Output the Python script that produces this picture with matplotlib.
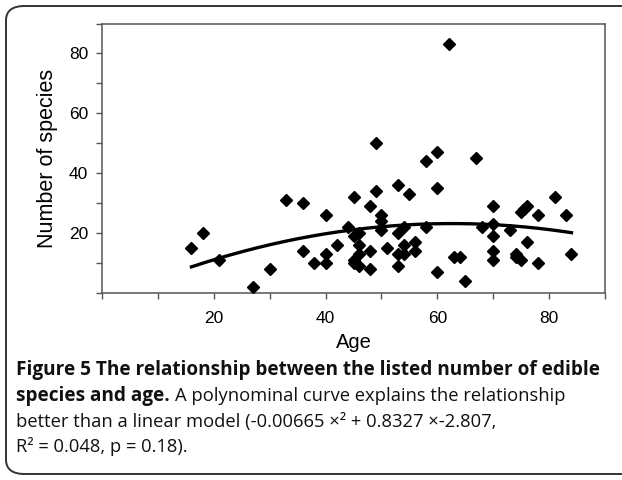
import numpy as np
import matplotlib
matplotlib.use("Agg")
import matplotlib.pyplot as plt
from matplotlib.patches import FancyBboxPatch

# scatter values (age, number of species)
ages = [16, 18, 21, 27, 30, 33, 36, 36, 38, 40, 40, 40, 42, 44, 45, 45, 45, 45,
        46, 46, 46, 46, 48, 48, 48, 49, 49, 50, 50, 50, 51, 53, 53, 53, 53,
        54, 54, 54, 55, 56, 56, 58, 58, 60, 60, 60, 62, 63, 64, 65, 67, 68,
        70, 70, 70, 70, 70, 73, 74, 74, 75, 75, 75.5, 76, 76, 78, 78, 81, 83, 84]
species = [15, 20, 11, 2, 8, 31, 30, 14, 10, 26, 13, 10, 16, 22, 32, 19, 11, 10,
           20, 16, 13, 9, 29, 14, 8, 34, 50, 26, 24, 21, 15, 36, 20, 13, 9,
           22, 16, 13, 33, 17, 14, 44, 22, 47, 35, 7, 83, 12, 12, 4, 45, 22,
           29, 23, 19, 14, 11, 21, 13, 12, 11, 27, 28, 29, 17, 26, 10, 32, 26, 13]

# polynomial fit given in the caption
fit_coef = [-0.00665, 0.8327, -2.807]
fit_range = [16, 84]

x_ticks = [20, 40, 60, 80]
y_ticks = [20, 40, 60, 80]

W, H = 622, 480
fig = plt.figure(figsize=(W / 100, H / 100), dpi=100)

# rounded frame around figure + caption
frame = FancyBboxPatch((6 / W, 6 / H), 660 / W, 468 / H,
                       boxstyle="round,pad=0,rounding_size=0.03",
                       transform=fig.transFigure, fill=False,
                       edgecolor="#333333", linewidth=1.4)
fig.patches.append(frame)

ax = fig.add_axes([102 / W, 1 - 293.3 / H, (605 - 102) / W, (293.3 - 23.5) / H])

xs = np.linspace(fit_range[0], fit_range[1], 200)
ax.plot(xs, np.polyval(fit_coef, xs), color="black", linewidth=2.4, zorder=2)
ax.plot(ages, species, linestyle="none", marker="D", markersize=6.5,
        color="black", zorder=3)

ax.set_xlim(0, 90)
ax.set_ylim(0, 90)
ax.set_xticks(np.arange(0, 91, 10))
ax.set_xticklabels([str(t) if t in x_ticks else "" for t in range(0, 91, 10)])
ax.set_yticks(np.arange(0, 91, 10))
ax.set_yticklabels([str(t) if t in y_ticks else "" for t in range(0, 91, 10)])

for s in ax.spines.values():
    s.set_color("#555555")
    s.set_linewidth(1.1)
ax.tick_params(direction="out", length=4, width=1, color="#555555",
               labelsize=12.5, pad=6)
for lab in ax.get_xticklabels() + ax.get_yticklabels():
    lab.set_fontfamily("Liberation Sans")
ax.tick_params(axis="x", pad=9)

ax.set_xlabel("Age", fontsize=14.5, fontfamily="Liberation Sans", labelpad=5)
ax.set_ylabel("Number of species", fontsize=15.5, fontfamily="Liberation Sans",
              labelpad=8)

# caption
cap_font = "Open Sans"
bold_size = 13.7
reg_size = 13.2
x0 = 16 / W
lines_y = [370.5, 396, 421.5, 447]
fig.text(x0, 1 - lines_y[0] / H,
         "Figure 5 The relationship between the listed number of edible",
         fontsize=bold_size, fontweight="bold", family=cap_font, va="center",
         color="#111111")
t_bold = fig.text(x0, 1 - lines_y[1] / H, "species and age.",
                  fontsize=bold_size, fontweight="bold", family=cap_font,
                  va="center", color="#111111")
fig.canvas.draw()
bb = t_bold.get_window_extent()
fig.text(bb.x1 / W + 5 / W, 1 - lines_y[1] / H,
         "A polynominal curve explains the relationship",
         fontsize=reg_size, family=cap_font, va="center", color="#111111")
fig.text(x0, 1 - lines_y[2] / H,
         "better than a linear model (-0.00665 \u00d7\u00b2 + 0.8327 \u00d7-2.807,",
         fontsize=reg_size, family=cap_font, va="center", color="#111111")
fig.text(x0, 1 - lines_y[3] / H, "R\u00b2 = 0.048, p = 0.18).",
         fontsize=reg_size, family=cap_font, va="center", color="#111111")

fig.savefig("out.png", dpi=100)
